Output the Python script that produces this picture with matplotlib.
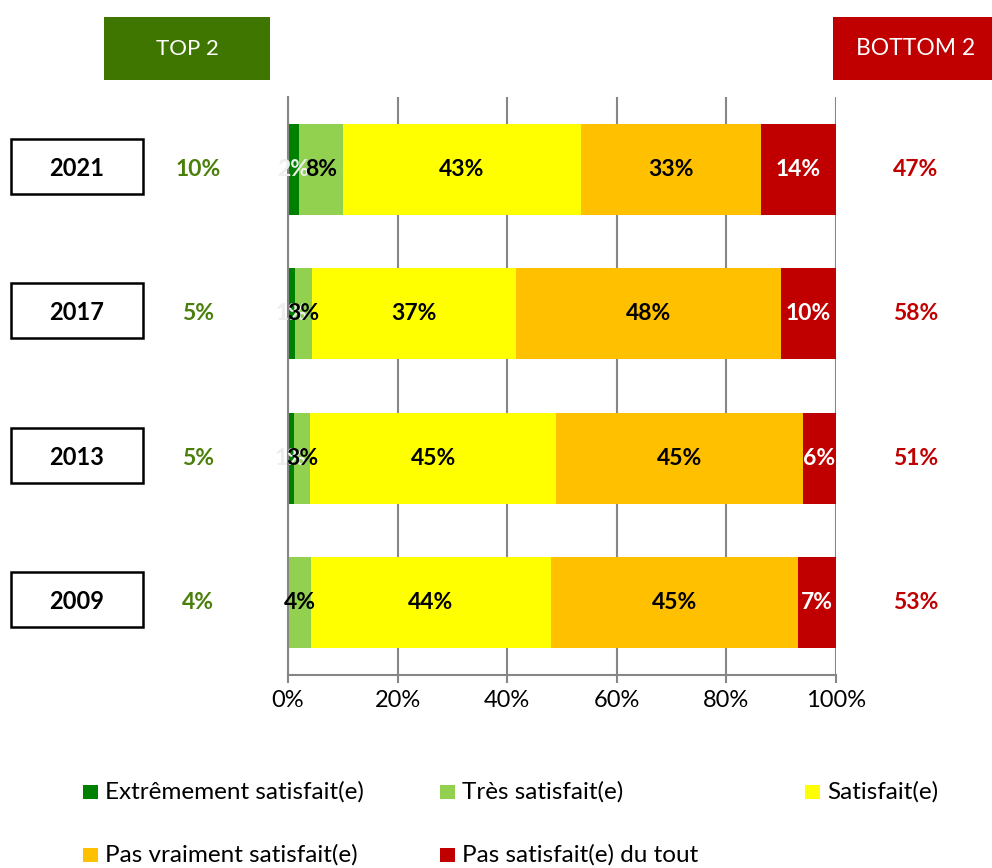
import numpy as np
import matplotlib
matplotlib.use("Agg")
import matplotlib.pyplot as plt
from matplotlib.patches import Rectangle
from matplotlib.transforms import blended_transform_factory

plt.rcParams['font.family'] = ['Lato', 'DejaVu Sans']

# data (shares in %)
years = ['2021', '2017', '2013', '2009']
extreme = [2.0, 1.2, 1.1, 0.0]
tres = [8.0, 3.2, 3.0, 4.2]
satisf = [43.4, 37.3, 44.9, 43.8]
pas_vraiment = [32.9, 48.3, 45.0, 45.0]
pas_du_tout = [13.7, 10.0, 6.0, 7.0]
top2 = [10, 5, 5, 4]
bottom2 = [47, 58, 51, 53]

series_names = ['Extrêmement satisfait(e)', 'Très satisfait(e)', 'Satisfait(e)',
                'Pas vraiment satisfait(e)', 'Pas satisfait(e) du tout']
colors = ['#008000', '#92d050', '#ffff00', '#ffc000', '#c00000']
label_colors = ['#eeeeee', 'black', 'black', 'black', 'white']
series = [extreme, tres, satisf, pas_vraiment, pas_du_tout]

fig = plt.figure(figsize=(9.92, 8.68), dpi=100)
ax = fig.add_axes([0.2903, 0.2224, 0.5524, 0.6659])

y = np.arange(len(years))
left = np.zeros(len(years))
for vals, col, lcol in zip(series, colors, label_colors):
    vals = np.array(vals)
    bars = ax.barh(y, vals, left=left, height=0.63, color=col, zorder=2)
    labels = [f'{v:.0f}%' if v > 0 else '' for v in vals]
    ax.bar_label(bars, labels=labels, label_type='center', color=lcol,
                 fontsize=16.5, fontweight='bold', zorder=4)
    left += vals

ax.set_xlim(0, 100)
ax.set_ylim(3.5, -0.5)
ax.set_xticks(np.arange(0, 101, 20))
ax.set_xticklabels([f'{t}%' for t in range(0, 101, 20)], fontsize=17)
ax.set_yticks([])
ax.grid(axis='x', color='#868686', linewidth=1.5, zorder=0)
for s in ['top', 'right']:
    ax.spines[s].set_visible(False)
for s in ['left', 'bottom']:
    ax.spines[s].set_color('#868686')
    ax.spines[s].set_linewidth(1.5)
ax.tick_params(axis='x', length=6, width=1.5, color='#868686', pad=5)

# year boxes and top2 / bottom2 numbers
tr = blended_transform_factory(fig.transFigure, ax.transData)
for i, yr in enumerate(years):
    fig.patches.append(Rectangle((0.0111, i - 0.21), 0.1331, 0.38, transform=tr,
                                 facecolor='white', edgecolor='black', linewidth=1.8))
    fig.text(0.0776, i - 0.005, yr, transform=tr, ha='center', va='center',
             fontsize=17, fontweight='bold')
    fig.text(0.1996, i, f'{top2[i]}%', transform=tr, ha='center', va='center',
             fontsize=16.5, fontweight='bold', color='#4a7f0a')
    fig.text(0.9234, i, f'{bottom2[i]}%', transform=tr, ha='center', va='center',
             fontsize=16.5, fontweight='bold', color='#c00000')

# header boxes
fig.patches.append(Rectangle((0.1048, 0.9078), 0.1673, 0.0726, transform=fig.transFigure,
                             facecolor='#3f7600', edgecolor='none'))
fig.text(0.1885, 0.9441, 'TOP 2', ha='center', va='center', color='white', fontsize=16)
fig.patches.append(Rectangle((0.8397, 0.9078), 0.1603, 0.0726, transform=fig.transFigure,
                             facecolor='#c00000', edgecolor='none'))
fig.text(0.9234, 0.9441, 'BOTTOM 2', ha='center', va='center', color='white', fontsize=16.5)

# legend, laid out like the original
leg_x = [0.0837, 0.4435, 0.8115, 0.0837, 0.4435]
leg_y = [0.0876, 0.0876, 0.0876, 0.0150, 0.0150]
for name, col, lx, ly in zip(series_names, colors, leg_x, leg_y):
    fig.patches.append(Rectangle((lx, ly - 0.0081), 0.0151, 0.0162,
                                 transform=fig.transFigure, facecolor=col, edgecolor='none'))
    fig.text(lx + 0.0222, ly, name, ha='left', va='center', fontsize=17.5)

fig.savefig('out.png', dpi=100)
